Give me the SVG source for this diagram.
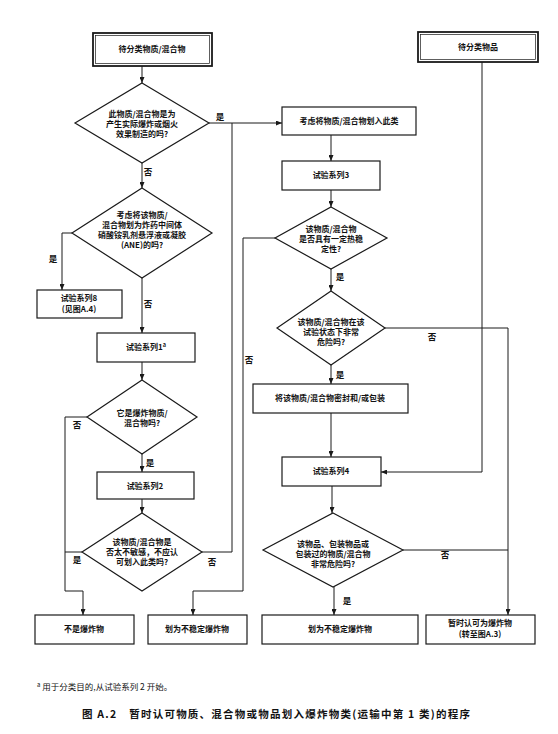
<svg xmlns="http://www.w3.org/2000/svg" width="558" height="734" viewBox="0 0 558 734">
<style>
.b{fill:#fff;stroke:#1a1a1a;stroke-width:1.2}
.d{fill:#fff;stroke:#1a1a1a;stroke-width:1.2}
.t{font-family:"Noto Sans CJK SC","Liberation Sans",sans-serif;font-size:8px;font-weight:bold;fill:#111;text-anchor:middle}
.l{font-family:"Noto Sans CJK SC","Liberation Sans",sans-serif;font-size:8.5px;font-weight:bold;fill:#111;text-anchor:middle}
.c{fill:none;stroke:#1a1a1a;stroke-width:1}
</style>
<defs>
<marker id="a" markerWidth="6" markerHeight="5" refX="6" refY="2.5" orient="auto" markerUnits="userSpaceOnUse">
<path d="M0,0 L6,2.5 L0,5 z" fill="#1a1a1a"/>
</marker>
</defs>
<rect width="558" height="734" fill="#fff"/>
<g id="connectors">
<path class="c" d="M142,66 V83" marker-end="url(#a)"/>
<path class="c" d="M209,123 H282" marker-end="url(#a)"/>
<path class="c" d="M142,163 V188" marker-end="url(#a)"/>
<path class="c" d="M72,233 H62 V290" marker-end="url(#a)"/>
<path class="c" d="M142,278 V333" marker-end="url(#a)"/>
<path class="c" d="M142,362 V380" marker-end="url(#a)"/>
<path class="c" d="M87,417 H65 V591 H83 V615" marker-end="url(#a)"/>
<path class="c" d="M142,454 V472" marker-end="url(#a)"/>
<path class="c" d="M142,499 V513" marker-end="url(#a)"/>
<path class="c" d="M82,552 H65"/>
<path class="c" d="M202,552 H232 V123"/>
<path class="c" d="M275,238 H243 V591 H193 V615" marker-end="url(#a)"/>
<path class="c" d="M331,135 V161" marker-end="url(#a)"/>
<path class="c" d="M331,190 V207" marker-end="url(#a)"/>
<path class="c" d="M331,269 V291" marker-end="url(#a)"/>
<path class="c" d="M331,365 V384" marker-end="url(#a)"/>
<path class="c" d="M385,328 H508 V615" marker-end="url(#a)"/>
<path class="c" d="M482,62 V472 H381" marker-end="url(#a)"/>
<path class="c" d="M331,413 V457" marker-end="url(#a)"/>
<path class="c" d="M332,486 V513" marker-end="url(#a)"/>
<path class="c" d="M403,550 H508"/>
<path class="c" d="M334,587 V615" marker-end="url(#a)"/>
<text class="l" x="220" y="120">是</text>
<text class="l" x="148" y="175">否</text>
<text class="l" x="53" y="262">是</text>
<text class="l" x="148" y="307">否</text>
<text class="l" x="77" y="428">否</text>
<text class="l" x="150" y="466">是</text>
<text class="l" x="77" y="563">是</text>
<text class="l" x="212" y="565">否</text>
<text class="l" x="249" y="363">否</text>
<text class="l" x="340" y="280">是</text>
<text class="l" x="340" y="378">是</text>
<text class="l" x="432" y="340">否</text>
<text class="l" x="445" y="558">否</text>
<text class="l" x="347" y="604">是</text>
</g>
<g id="n1">
<rect x="93" y="33" width="119" height="33" fill="#fff" stroke="#1a1a1a" stroke-width="1.8"/>
<rect x="95.5" y="35.5" width="114" height="28" fill="none" stroke="#1a1a1a" stroke-width="0.7"/>
<text class="t" x="152" y="52">待分类物质/混合物</text>
</g>
<g id="d1">
<polygon class="d" points="142,83 209,123 142,163 75,123"/>
<text class="t" x="142" y="117">此物质/混合物是为</text>
<text class="t" x="142" y="127">产生实际爆炸或烟火</text>
<text class="t" x="142" y="137">效果制造的吗?</text>
</g>
<g id="d2">
<polygon class="d" points="142,188 212,233 142,278 72,233"/>
<text class="t" x="142" y="217.5">考虑将该物质/</text>
<text class="t" x="142" y="227.5">混合物划为炸药中间体</text>
<text class="t" x="142" y="237.5">硝酸铵乳剂悬浮液或凝胶</text>
<text class="t" x="142" y="247.5">(ANE)的吗?</text>
</g>
<g id="n8">
<rect class="b" x="37" y="290" width="85" height="28"/>
<text class="t" x="79" y="301">试验系列8</text>
<text class="t" x="79" y="312">(见图A.4)</text>
</g>
<g id="n1s">
<rect class="b" x="97" y="333" width="98" height="29"/>
<text class="t" x="146" y="350">试验系列1<tspan font-size="5.5" dy="-3.5">a</tspan></text>
</g>
<g id="d3">
<polygon class="d" points="142,380 197,417 142,454 87,417"/>
<text class="t" x="142" y="416">它是爆炸物质/</text>
<text class="t" x="142" y="426">混合物吗?</text>
</g>
<g id="n2">
<rect class="b" x="97" y="472" width="97" height="27"/>
<text class="t" x="145" y="489">试验系列2</text>
</g>
<g id="d4">
<polygon class="d" points="142,513 202,552 142,591 82,552"/>
<text class="t" x="142" y="545">该物质/混合物是</text>
<text class="t" x="142" y="555">否太不敏感，不应认</text>
<text class="t" x="142" y="565">可划入此类吗?</text>
</g>
<g id="r1">
<rect class="b" x="35" y="615" width="99" height="29"/>
<text class="t" x="84" y="632">不是爆炸物</text>
</g>
<g id="r2">
<rect class="b" x="148" y="615" width="99" height="29"/>
<text class="t" x="197" y="632">划为不稳定爆炸物</text>
</g>
<g id="n_art">
<rect x="418" y="32" width="120" height="30" fill="#fff" stroke="#1a1a1a" stroke-width="1.8"/>
<rect x="420.5" y="34.5" width="115" height="25" fill="none" stroke="#1a1a1a" stroke-width="0.7"/>
<text class="t" x="478" y="50">待分类物品</text>
</g>
<g id="n_cons">
<rect class="b" x="282" y="107" width="134" height="28"/>
<text class="t" x="349" y="124">考虑将物质/混合物划入此类</text>
</g>
<g id="n3">
<rect class="b" x="282" y="161" width="98" height="29"/>
<text class="t" x="331" y="178">试验系列3</text>
</g>
<g id="d5">
<polygon class="d" points="331,207 387,238 331,269 275,238"/>
<text class="t" x="331" y="232">该物质/混合物</text>
<text class="t" x="331" y="242">是否具有一定热稳</text>
<text class="t" x="331" y="252">定性?</text>
</g>
<g id="d6">
<polygon class="d" points="331,291 385,328 331,365 277,328"/>
<text class="t" x="331" y="325">该物质/混合物在该</text>
<text class="t" x="331" y="335">试验状态下非常</text>
<text class="t" x="331" y="345">危险吗?</text>
</g>
<g id="n_pack">
<rect class="b" x="253" y="384" width="155" height="29"/>
<text class="t" x="330" y="401">将该物质/混合物密封和/或包装</text>
</g>
<g id="n4">
<rect class="b" x="282" y="457" width="99" height="29"/>
<text class="t" x="331" y="474">试验系列4</text>
</g>
<g id="d7">
<polygon class="d" points="333,513 403,550 333,587 263,550"/>
<text class="t" x="333" y="547">该物品、包装物品或</text>
<text class="t" x="333" y="557">包装过的物质/混合物</text>
<text class="t" x="333" y="567">非常危险吗?</text>
</g>
<g id="r3">
<rect class="b" x="262" y="615" width="156" height="29"/>
<text class="t" x="340" y="632">划为不稳定爆炸物</text>
</g>
<g id="r4">
<rect class="b" x="426" y="615" width="109" height="29"/>
<text class="t" x="480" y="626">暂时认可为爆炸物</text>
<text class="t" x="480" y="637">(转至图A.3)</text>
</g>
<text x="37" y="690" font-family="'Noto Sans CJK SC',sans-serif" font-size="8.5" fill="#111"><tspan font-size="6" dy="-3">a</tspan><tspan dy="3"> 用于分类目的,从试验系列 2 开始。</tspan></text>
<text x="82" y="718" font-family="'Noto Sans CJK SC',sans-serif" font-size="10.5" font-weight="bold" fill="#111" textLength="388" lengthAdjust="spacing">图 A.2　暂时认可物质、混合物或物品划入爆炸物类(运输中第 1 类)的程序</text>
</svg>
